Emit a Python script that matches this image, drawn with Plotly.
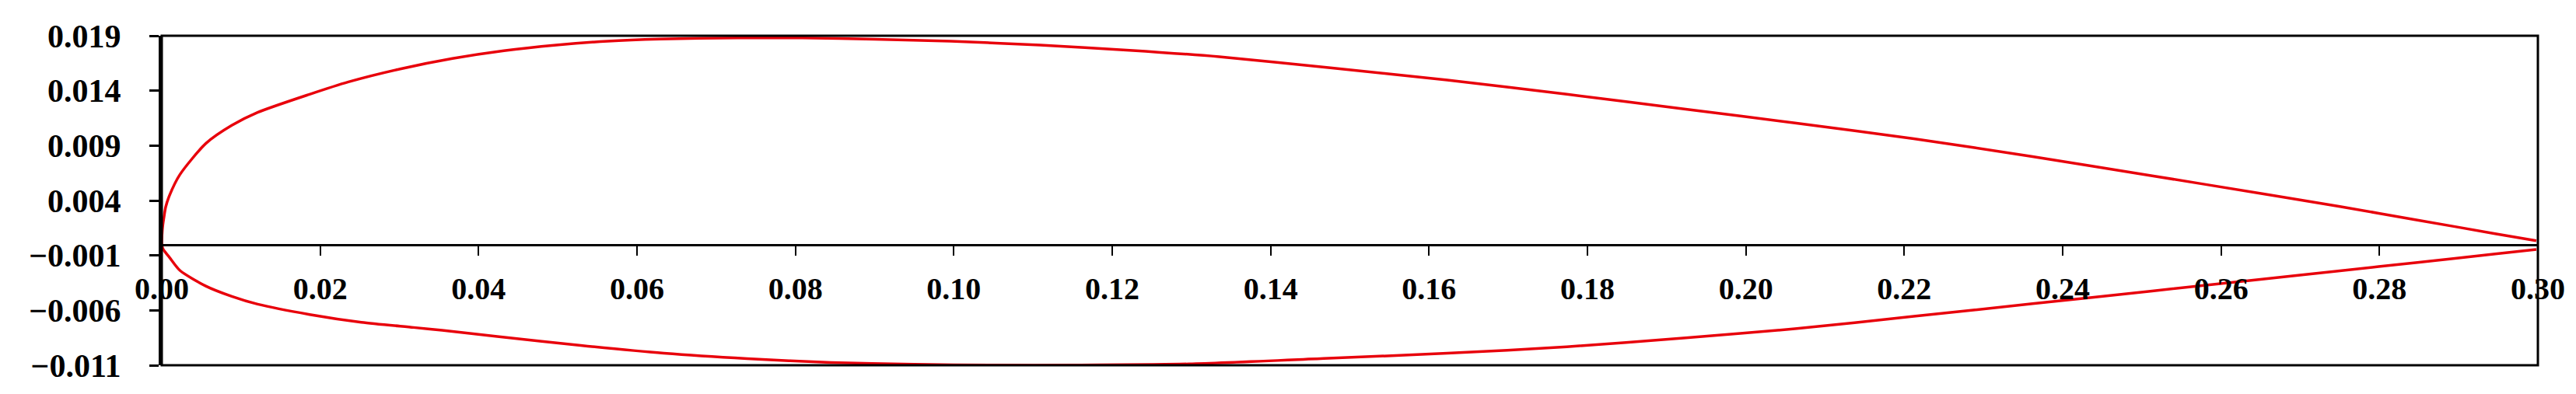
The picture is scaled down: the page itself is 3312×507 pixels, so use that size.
import plotly.graph_objects as go

# contorno superior (extradorso), do bordo de ataque ao de fuga
x_sup = [0.0, 0.00003, 0.00012, 0.00028, 0.00049, 0.00098, 0.00229, 0.00556, 0.00884, 0.0121,
         0.01866, 0.02357, 0.0301, 0.0367, 0.0432, 0.0498, 0.0563, 0.0629, 0.0727, 0.0809,
         0.0900, 0.0996, 0.1109, 0.1222, 0.1335, 0.1473, 0.1623, 0.1774, 0.1924, 0.2062,
         0.2212, 0.2362, 0.2513, 0.2652, 0.2750, 0.2848, 0.2946, 0.2998]
y_sup = [0.0, 0.00090, 0.00170, 0.00250, 0.00340, 0.00447, 0.00636, 0.00919, 0.01084, 0.01202,
         0.01367, 0.01480, 0.01598, 0.01693, 0.01764, 0.01815, 0.01851, 0.01870, 0.01881, 0.01880,
         0.01868, 0.01850, 0.01815, 0.01768, 0.01709, 0.01610, 0.01497, 0.01367, 0.01232, 0.01106,
         0.00963, 0.00800, 0.00625, 0.00462, 0.00345, 0.00222, 0.00098, 0.00034]

# contorno inferior (intradorso)
x_inf = [0.0, 0.00015, 0.00049, 0.00098, 0.00229, 0.00556, 0.00884, 0.0121, 0.01866, 0.0252,
         0.0318, 0.0354, 0.04236, 0.0529, 0.0634, 0.0739, 0.0845, 0.0950, 0.1050, 0.1150,
         0.1297, 0.1473, 0.1623, 0.1774, 0.1924, 0.2062, 0.2212, 0.2362, 0.2513, 0.2652,
         0.2750, 0.2848, 0.2946, 0.2998]
y_inf = [0.0, -0.00040, -0.00075, -0.00119, -0.00237, -0.00379, -0.00473, -0.00544, -0.00638, -0.00709,
         -0.00756, -0.00782, -0.00838, -0.00920, -0.00991, -0.01040, -0.01075, -0.01092, -0.01099, -0.01098,
         -0.01088, -0.01037, -0.00991, -0.00932, -0.00850, -0.00768, -0.00655, -0.00540, -0.00424, -0.00316,
         -0.00240, -0.00164, -0.00087, -0.00046]

x_ticks = [0.00, 0.02, 0.04, 0.06, 0.08, 0.10, 0.12, 0.14, 0.16, 0.18, 0.20, 0.22, 0.24, 0.26, 0.28, 0.30]
y_ticks = [-0.011, -0.006, -0.001, 0.004, 0.009, 0.014, 0.019]

fonte = dict(family="Liberation Serif", color="black", weight="bold")

x_perfil = x_sup[::-1] + x_inf[1:]
y_perfil = y_sup[::-1] + y_inf[1:]

fig = go.Figure()

fig.add_trace(
    go.Scatter(
        x=x_perfil,
        y=y_perfil,
        mode="lines",
        line=dict(color="#e8000b", width=3.5, shape="spline", smoothing=0.7),
        showlegend=False,
    )
)

# moldura do gráfico
fig.add_shape(
    type="rect", xref="paper", yref="paper",
    x0=0, x1=1, y0=0, y1=1,
    line=dict(color="black", width=3),
    layer="above",
)

y_min, y_max = -0.011, 0.019

fig.update_layout(
    width=3312,
    height=507,
    margin=dict(l=200, r=57, t=38, b=45),
    paper_bgcolor="white",
    plot_bgcolor="white",
    xaxis=dict(
        range=[0, 0.30],
        anchor="free",
        position=(0 - y_min) / (y_max - y_min),
        tickvals=x_ticks,
        tickformat=".2f",
        showline=True,
        linecolor="black",
        linewidth=3,
        ticks="outside",
        ticklen=12,
        tickwidth=2,
        tickcolor="black",
        ticklabelstandoff=8,
        showgrid=False,
        zeroline=False,
        tickfont=dict(size=40, **fonte),
    ),
    yaxis=dict(
        range=[y_min, y_max],
        tickvals=y_ticks,
        tickformat=".3f",
        showline=True,
        linecolor="black",
        linewidth=4,
        ticks="outside",
        ticklen=12,
        tickwidth=3,
        tickcolor="black",
        ticklabelstandoff=28,
        showgrid=False,
        zeroline=False,
        tickfont=dict(size=42, **fonte),
    ),
)

fig.write_html("out.html")
